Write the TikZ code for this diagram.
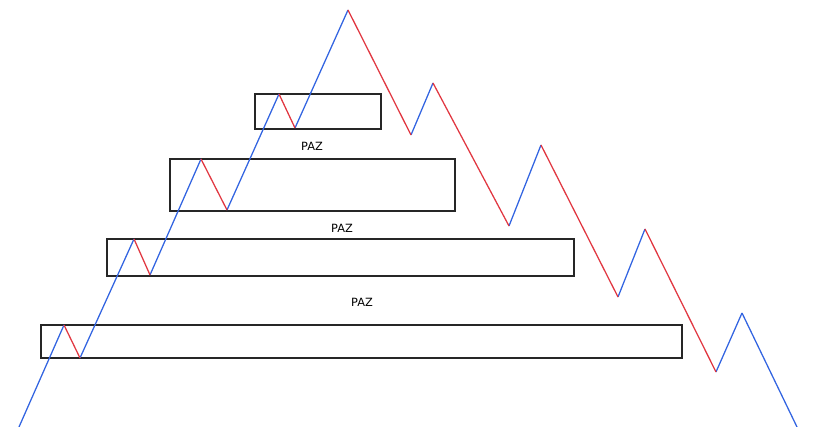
\documentclass[tikz,border=0pt]{standalone}
\usepackage{fontspec}
\setmainfont{DejaVu Sans}
\definecolor{upblue}{RGB}{50,100,225}
\definecolor{downred}{RGB}{225,55,65}
\tikzstyle{zone} = [draw=black!85, line width=1.1pt]
\tikzstyle{up} = [draw=upblue, line width=0.95pt]
\tikzstyle{down} = [draw=downred, line width=0.95pt]
\tikzstyle{paz} = [font=\fontsize{8.5}{10}\selectfont, inner sep=0pt]

\begin{document}
\begin{tikzpicture}[x=0.75pt, y=-0.75pt]
  \useasboundingbox (0,0) rectangle (819,427);
  % zones
  \draw [zone] (255,94) rectangle (381,129);
  \draw [zone] (170,159) rectangle (455,211);
  \draw [zone] (107,239) rectangle (574,276);
  \draw [zone] (41,325) rectangle (682,358);
  \node (paz1) [paz] at (312,146) {PAZ};
  \node (paz2) [paz] at (342,228) {PAZ};
  \node (paz3) [paz] at (362,302) {PAZ};
  % swing points
  \coordinate (p0) at (19,427);
  \coordinate (p1) at (64,325);
  \coordinate (p2) at (80,358);
  \coordinate (p3) at (134,239);
  \coordinate (p4) at (150,275);
  \coordinate (p5) at (201,159);
  \coordinate (p6) at (227,210);
  \coordinate (p7) at (279,94);
  \coordinate (p8) at (295,128);
  \coordinate (p9) at (348,10);
  \coordinate (p10) at (411,135);
  \coordinate (p11) at (433,83);
  \coordinate (p12) at (509,226);
  \coordinate (p13) at (541,145);
  \coordinate (p14) at (618,297);
  \coordinate (p15) at (645,229);
  \coordinate (p16) at (716,372);
  \coordinate (p17) at (742,313);
  \coordinate (p18) at (797,427);
  % price legs
  \foreach \a/\b in {0/1,2/3,4/5,6/7,8/9,10/11,12/13,14/15,16/17,17/18}
    \draw [up] (p\a) -- (p\b);
  \foreach \a/\b in {1/2,3/4,5/6,7/8,9/10,11/12,13/14,15/16}
    \draw [down] (p\a) -- (p\b);
\end{tikzpicture}
\end{document}
